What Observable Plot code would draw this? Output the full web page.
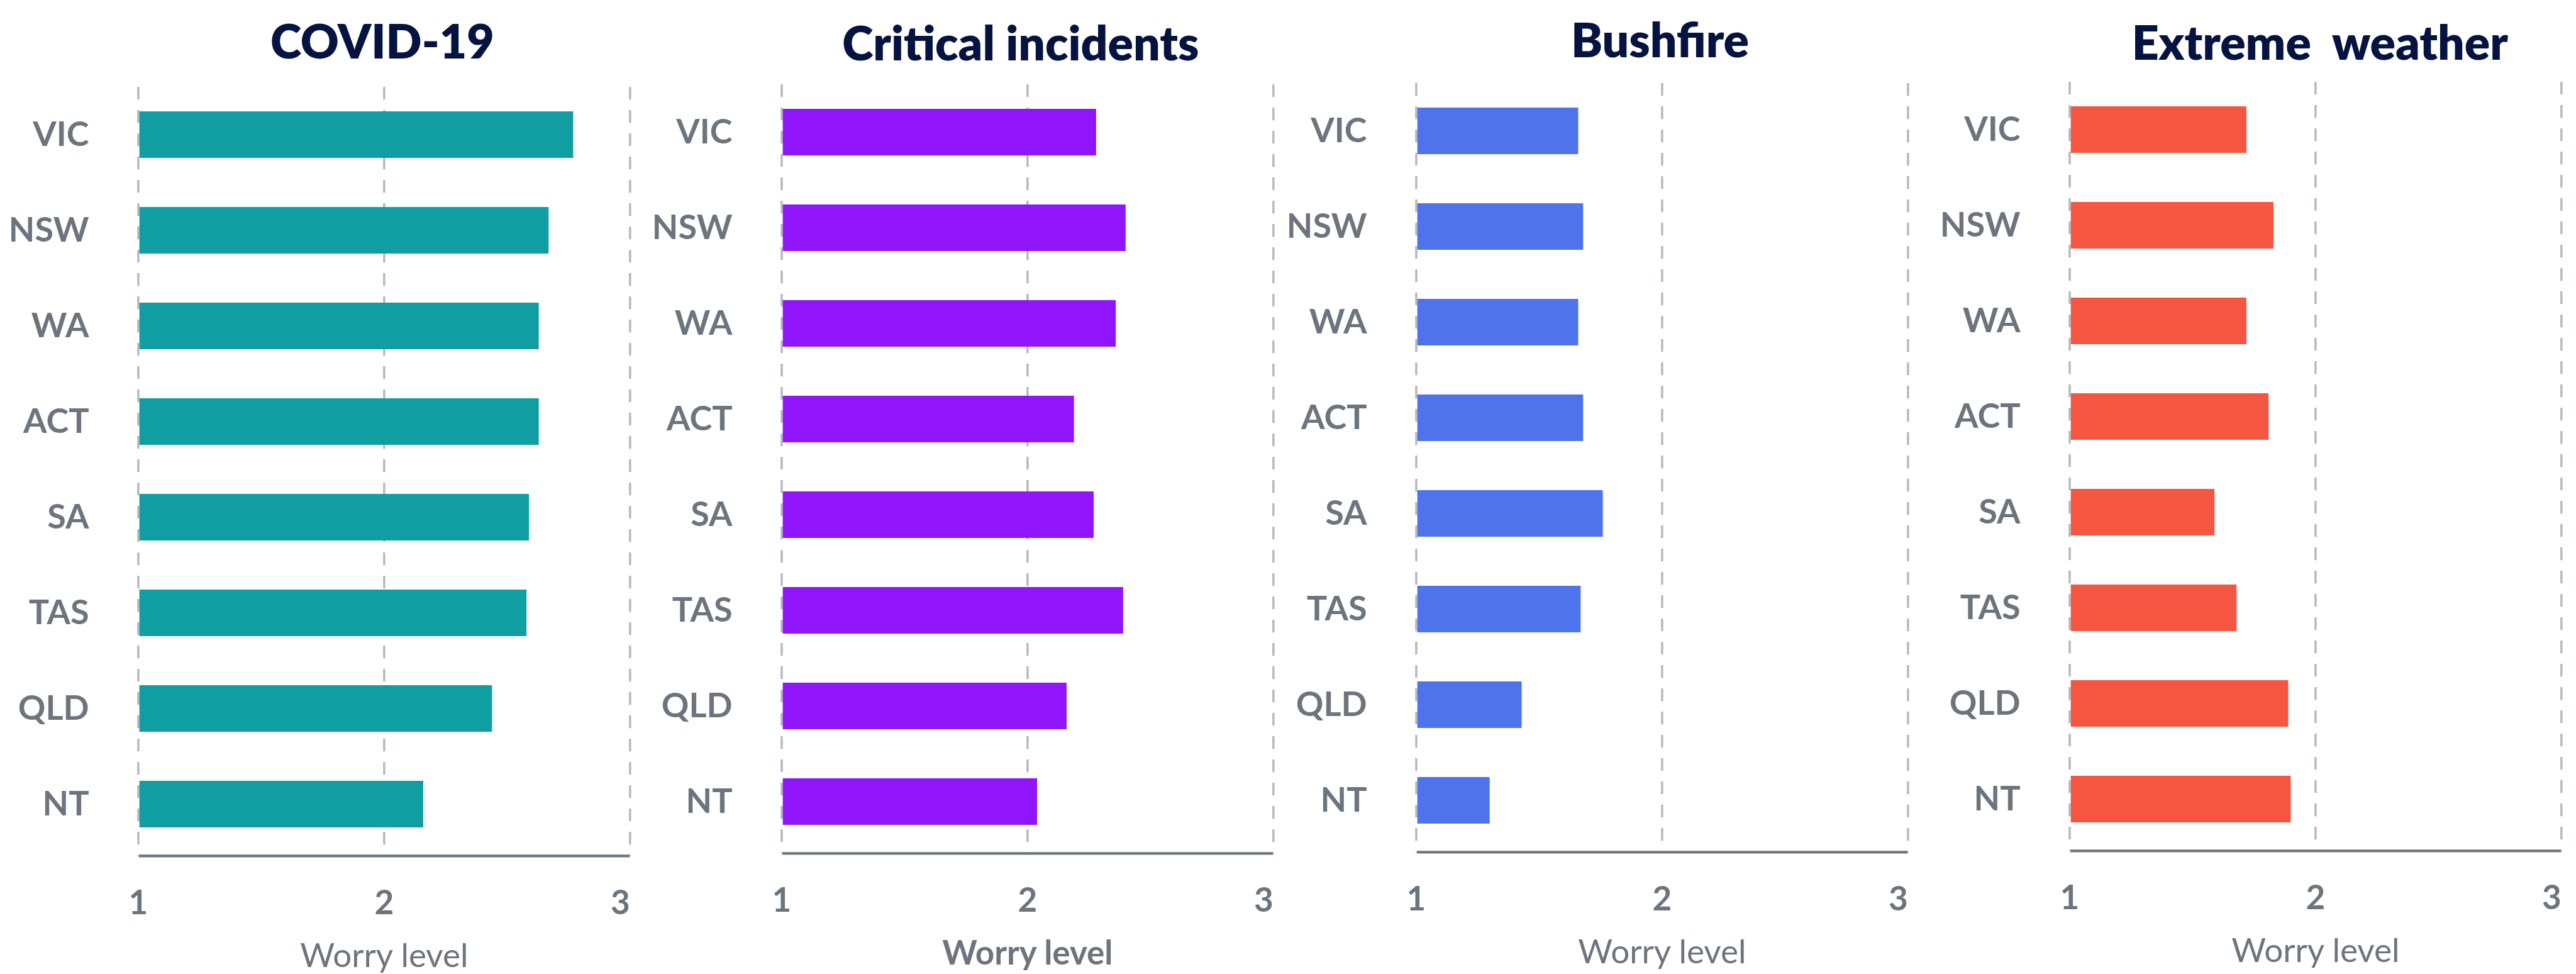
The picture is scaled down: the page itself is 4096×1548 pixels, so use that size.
<!DOCTYPE html>
<html>
<head>
<meta charset="utf-8">
<script src="https://cdn.jsdelivr.net/npm/d3@7"></script>
<script src="https://cdn.jsdelivr.net/npm/@observablehq/plot@0.6"></script>
<style>
  html, body { margin: 0; padding: 0; background: #ffffff; overflow: hidden; }
  #root { position: relative; width: 4096px; height: 1548px; background: #ffffff; font-family: Lato, sans-serif; }
  .title { position: absolute; text-align: center; white-space: pre; color: #041340; font-weight: 800; line-height: 1; }
  .panel { position: absolute; }
</style>
</head>
<body>
<div id="root"></div>
<script>
// ---- data ----
const states = ["VIC", "NSW", "WA", "ACT", "SA", "TAS", "QLD", "NT"];
const covid = [2.77, 2.67, 2.63, 2.63, 2.59, 2.58, 2.44, 2.16];
const critical = [2.28, 2.40, 2.36, 2.19, 2.27, 2.39, 2.16, 2.04];
const bushfire = [1.66, 1.68, 1.66, 1.68, 1.76, 1.67, 1.43, 1.30];
const weather = [1.72, 1.83, 1.72, 1.81, 1.59, 1.68, 1.89, 1.90];
const titles = ["COVID-19", "Critical incidents", "Bushfire", "Extreme  weather"];
const xTicks = [1, 2, 3];
const axisLabel = "Worry level";

// ---- layout (reference pixel units, scaled by s) ----
const s = 0.881;
const panels = [
  {values: covid,    color: "#109ea3", xs: 249.5, off: 0,  tcx: 690,  tbase: 105,   lw: 400},
  {values: critical, color: "#9015fb", xs: 1410,  off: -4, tcx: 1842, tbase: 108,   lw: 700},
  {values: bushfire, color: "#4f73eb", xs: 2556,  off: -6, tcx: 2996, tbase: 102,   lw: 400},
  {values: weather,  color: "#f45642", xs: 3735,  off: -9, tcx: 4187, tbase: 107.5, lw: 400}
];
const ML = 240 * s, MR = 20 * s, AX = 887.5 * s;
const W = ML + AX + MR;
const H = 1620 * s;
const MT = 26 * s;
const MB = H - (1413 * s);
const titleSize = 75;
const gray = "#6c757d";
const fmt = d3.format("d");

const root = document.getElementById("root");

panels.forEach((p, k) => {
  const data = states.map((st, i) => ({state: st, value: p.values[i]}));
  const chart = Plot.plot({
    width: W,
    height: H,
    marginLeft: ML,
    marginRight: MR,
    marginTop: MT,
    marginBottom: MB,
    style: {fontFamily: "Lato, sans-serif", color: gray, background: "transparent", overflow: "visible"},
    x: {domain: [1, 3]},
    y: {domain: states, paddingInner: 0.515, paddingOuter: 0.264, align: 0.46},
    marks: [
      Plot.gridX(xTicks, {stroke: "#b5b9be", strokeOpacity: 1, strokeWidth: 3.5, strokeDasharray: `${23 * s},${19 * s}`}),
      Plot.barX(data, {y: "state", x1: 1, x2: "value", fill: p.color, insetLeft: 2.2}),
      Plot.frame({anchor: "bottom", stroke: gray, strokeWidth: 4.4, insetLeft: 3, insetRight: 2.6}),
      Plot.axisY({tickSize: 0, tickPadding: 89 * s, fontSize: 54, fontWeight: 700, label: null}),
      Plot.axisX(xTicks.slice(0, 2), {tickSize: 0, tickPadding: 54.6, fontSize: 53, fontWeight: 700, tickFormat: fmt, label: null}),
      Plot.axisX(xTicks.slice(2), {tickSize: 0, tickPadding: 54.6, fontSize: 53, fontWeight: 700, tickFormat: fmt, textAnchor: "end", label: null}),
      Plot.text([axisLabel], {frameAnchor: "bottom", dy: 200.5 * s, lineAnchor: "bottom", fontSize: 53, fontWeight: p.lw, fill: gray})
    ]
  });
  chart.classList.add("panel");
  chart.style.left = ((p.xs * s) - ML) + "px";
  chart.style.top = ((130 + p.off) * s) + "px";
  root.appendChild(chart);

  const t = document.createElement("div");
  t.className = "title";
  t.textContent = titles[k];
  t.style.fontSize = titleSize + "px";
  t.style.width = (1000 * s) + "px";
  t.style.left = ((p.tcx - 500) * s) + "px";
  t.style.top = (p.tbase * s - 0.870 * titleSize) + "px";
  root.appendChild(t);
});
</script>
</body>
</html>
